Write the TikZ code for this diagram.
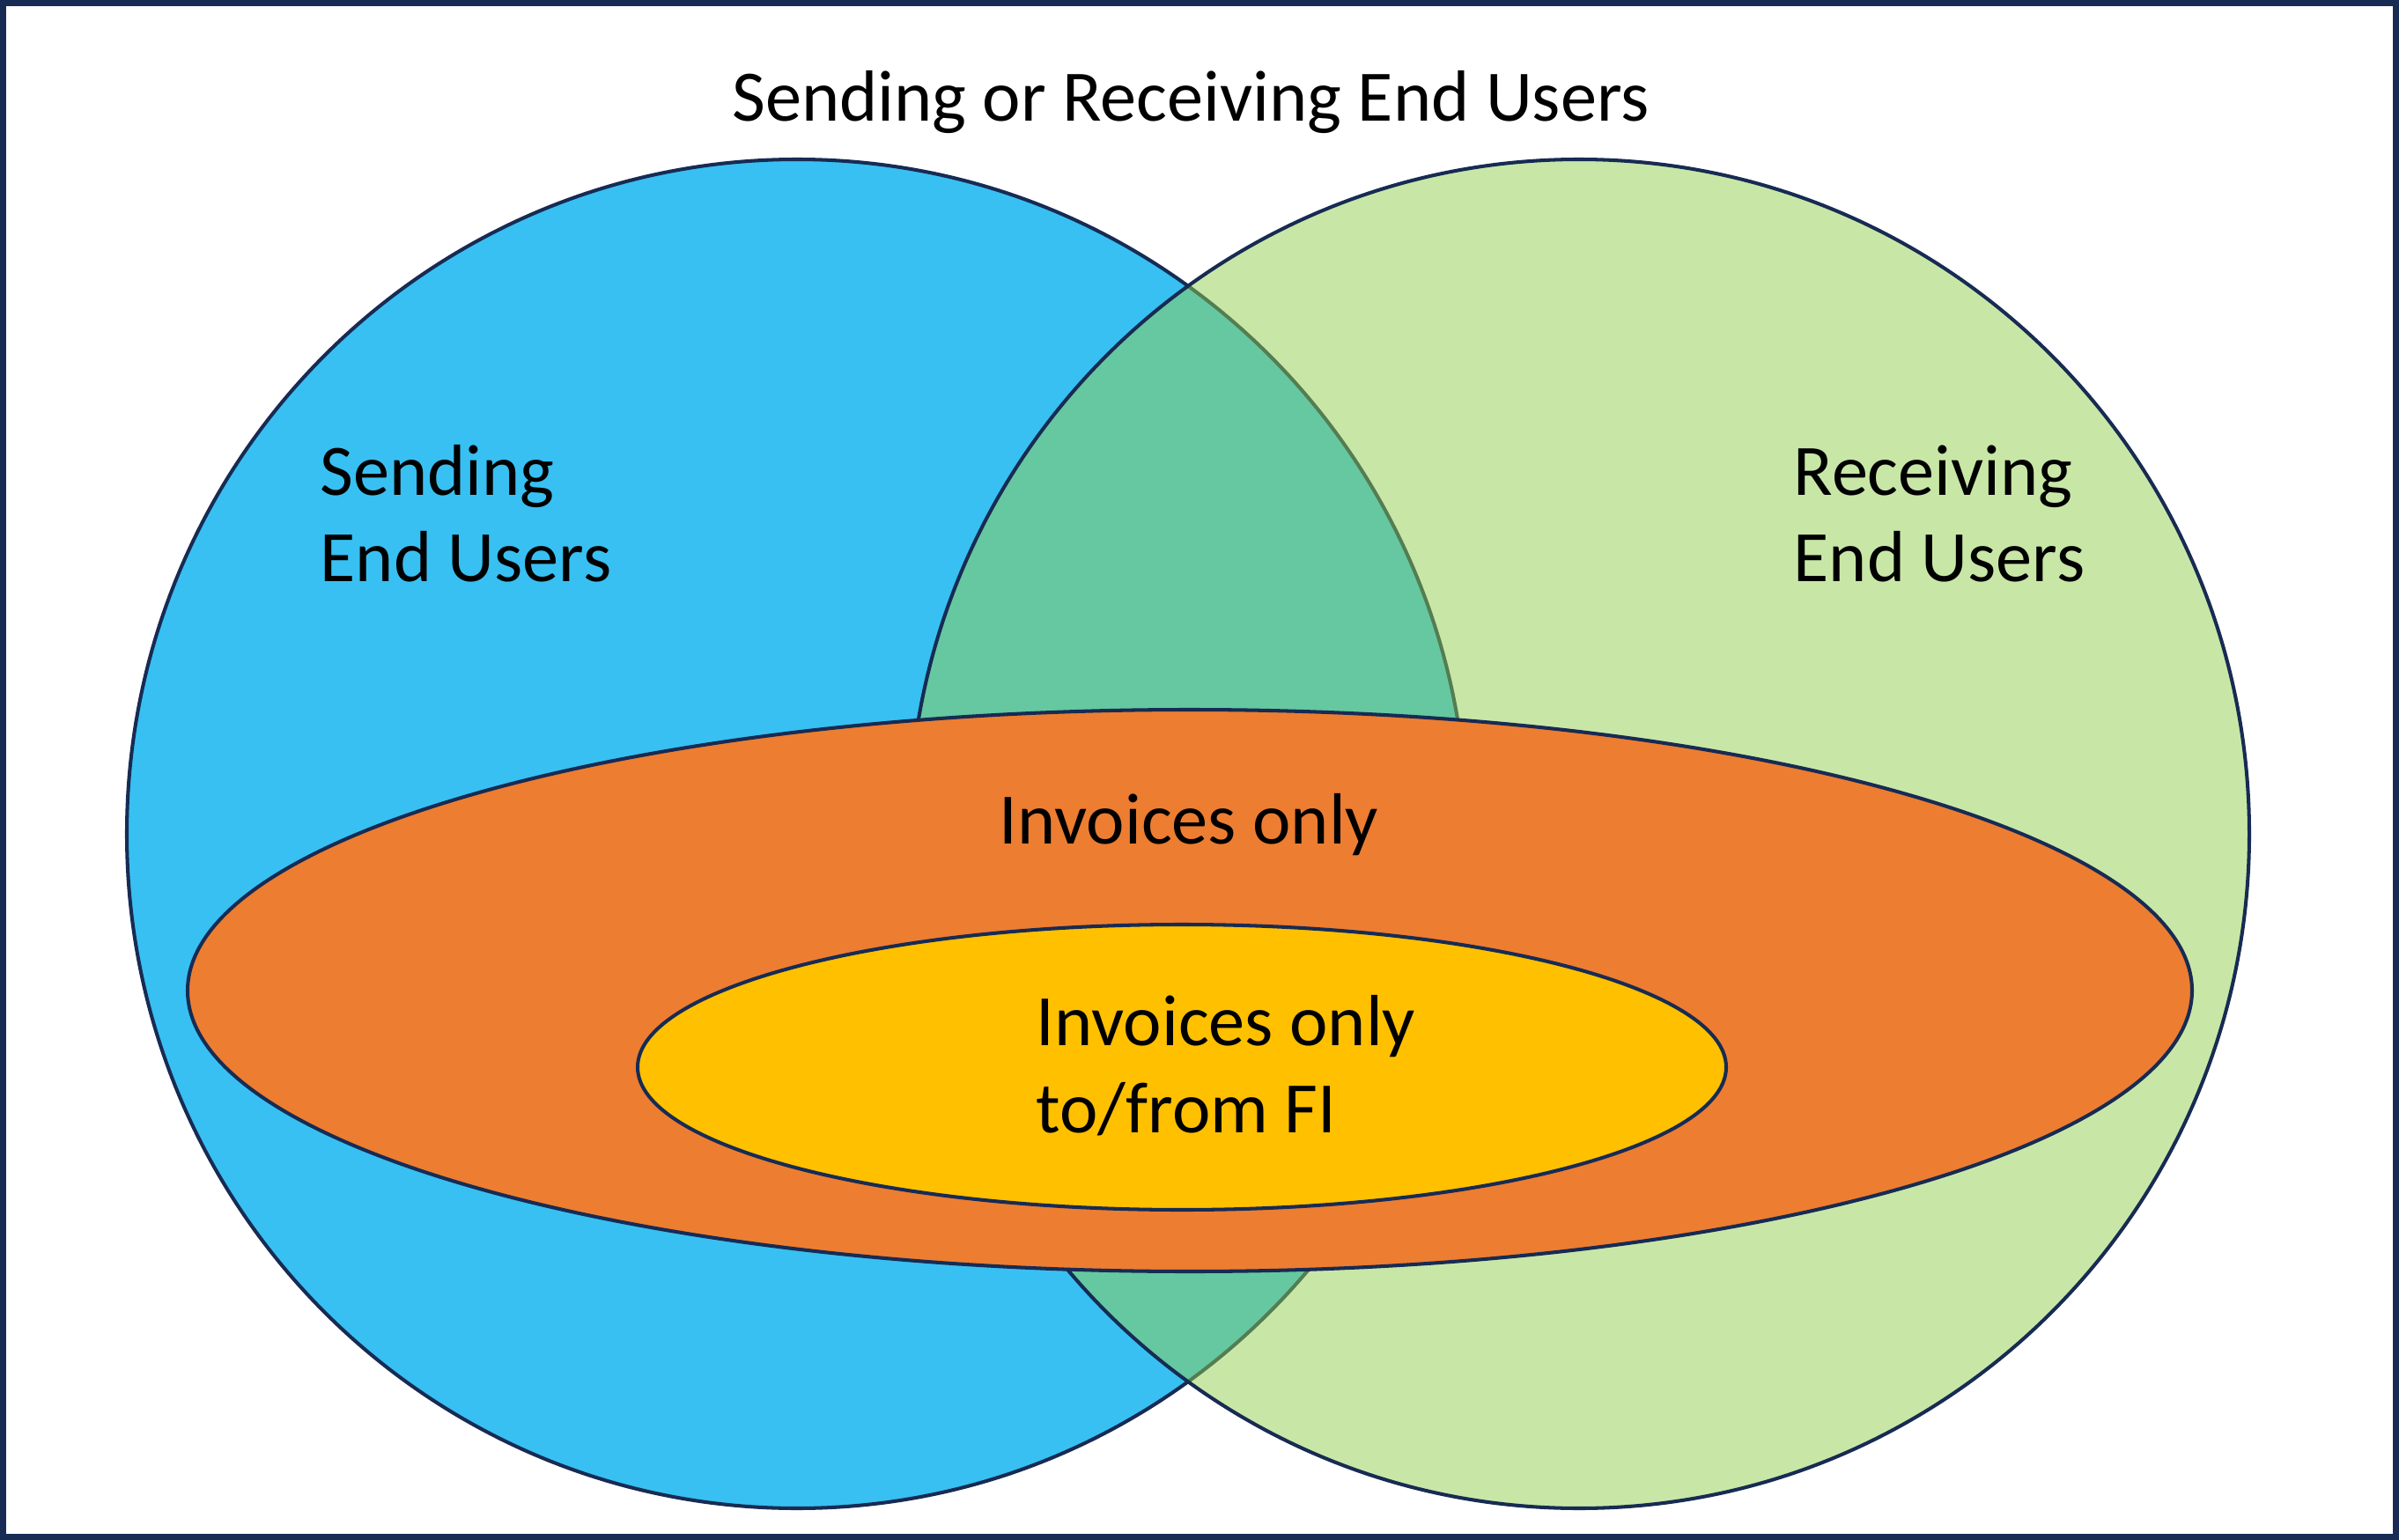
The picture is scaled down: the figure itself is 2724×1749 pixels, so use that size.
\documentclass[tikz,border=0pt]{standalone}
\usepackage{fontspec}
\setmainfont{Carlito}
\definecolor{navy}{HTML}{172B53}
\definecolor{sendblue}{HTML}{38C0F2}
\definecolor{recvgreen}{HTML}{92D050}
\definecolor{invorange}{HTML}{ED7D31}
\definecolor{fiyellow}{HTML}{FFC000}
\begin{document}
\begin{tikzpicture}[x=0.01cm,y=-0.01cm,
  outline/.style={draw=navy,line width=1.15pt},
  lbl/.style={inner sep=0pt,font=\fontsize{23.4}{28}\selectfont,text=black}]
\useasboundingbox (0,0) rectangle (2724,1749);
\fill[white] (0,0) rectangle (2724,1749);
% circles
\coordinate (cs) at (905,947);
\coordinate (cr) at (1793,947);
\filldraw[outline,fill=sendblue] (cs) ellipse [x radius=761, y radius=766];
\filldraw[outline,fill=recvgreen,fill opacity=0.5] (cr) ellipse [x radius=761, y radius=766];
% ellipses
\coordinate (co) at (1351,1125);
\coordinate (cy) at (1342,1212);
\filldraw[outline,fill=invorange] (co) ellipse [x radius=1138, y radius=319];
\filldraw[outline,fill=fiyellow] (cy) ellipse [x radius=618, y radius=162];
% frame
\draw[navy,line width=2pt] (3.5,3.5) rectangle (2720.5,1745.5);
% labels
\node[lbl,anchor=base] (title) at (1352,138) {Sending or Receiving End Users};
\node[lbl,anchor=base west] (send1) at (363,562) {Sending};
\node[lbl,anchor=base west] (send2) at (363,660) {End Users};
\node[lbl,anchor=base west] (recv1) at (2036,562) {Receiving};
\node[lbl,anchor=base west] (recv2) at (2036,660) {End Users};
\node[lbl,anchor=base] (inv) at (1350,958) {Invoices only};
\node[lbl,anchor=base west] (fi1) at (1176,1187) {Invoices only};
\node[lbl,anchor=base west] (fi2) at (1176,1286) {to/from FI};
\end{tikzpicture}
\end{document}
